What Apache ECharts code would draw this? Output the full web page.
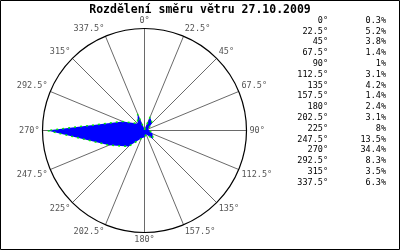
<!DOCTYPE html>
<html><head><meta charset="utf-8">
<script src="https://cdn.jsdelivr.net/npm/echarts@6/dist/echarts.min.js"></script>
<style>html,body{margin:0;padding:0;background:#fff}#c{width:400px;height:250px}</style>
</head><body><div id="c"></div>
<script>
var titleText = 'Rozdělení směru větru 27.10.2009';
var directions = [0, 22.5, 45, 67.5, 90, 112.5, 135, 157.5, 180, 202.5, 225, 247.5, 270, 292.5, 315, 337.5];
var values = [0.3, 5.2, 3.8, 1.4, 1, 3.1, 4.2, 1.4, 2.4, 3.1, 8, 13.5, 34.4, 8.3, 3.5, 6.3];

var MONO = '"DejaVu Sans Mono", "Liberation Mono", monospace';
var seriesData = directions.map(function (d, i) { return [values[i], d]; });
seriesData.push([values[0], 360]);

var legendEls = [];
directions.forEach(function (d, i) {
  var y = 20.5 + i * 10.8;
  legendEls.push({ type: 'text', x: 328, y: y, style: { text: d + '°', textAlign: 'right', textVerticalAlign: 'middle', font: '8.5px ' + MONO, fill: '#000' } });
  legendEls.push({ type: 'text', x: 386, y: y, style: { text: values[i] + '%', textAlign: 'right', textVerticalAlign: 'middle', font: '8.5px ' + MONO, fill: '#000' } });
});

var chart = echarts.init(document.getElementById('c'), null, { renderer: 'canvas' });
chart.setOption({
  animation: false,
  backgroundColor: '#fff',
  title: { text: titleText, left: 'center', top: -1, textStyle: { fontFamily: MONO, fontWeight: 'bold', fontSize: 11.5, color: '#000' } },
  polar: { center: [144.5, 130.5], radius: 102 },
  angleAxis: {
    type: 'value', min: 0, max: 360, interval: 22.5, startAngle: 90, clockwise: true,
    axisLine: { show: true, lineStyle: { color: '#000', width: 1.2 } },
    axisTick: { show: false },
    axisLabel: { show: true, margin: 3, color: '#555', fontFamily: MONO, fontSize: 8.5, formatter: function (v) { return v + '°'; } },
    splitLine: { show: true, lineStyle: { color: '#6a6a6a', width: 1 } }
  },
  radiusAxis: {
    type: 'value', min: 0, max: 36,
    axisLine: { show: false }, axisTick: { show: false }, axisLabel: { show: false }, splitLine: { show: false }
  },
  series: [{
    type: 'line', coordinateSystem: 'polar', data: seriesData, symbol: 'none', smooth: false,
    lineStyle: { color: '#00ee00', width: 1.5, type: [2, 4] },
    areaStyle: { color: '#0000ff', opacity: 1 }
  }],
  graphic: [
    { type: 'rect', shape: { x: 0.5, y: 0.5, width: 399, height: 249 }, style: { fill: 'none', stroke: '#000', lineWidth: 1 }, z: 100 },
    { type: 'group', children: legendEls }
  ]
});
</script></body></html>
